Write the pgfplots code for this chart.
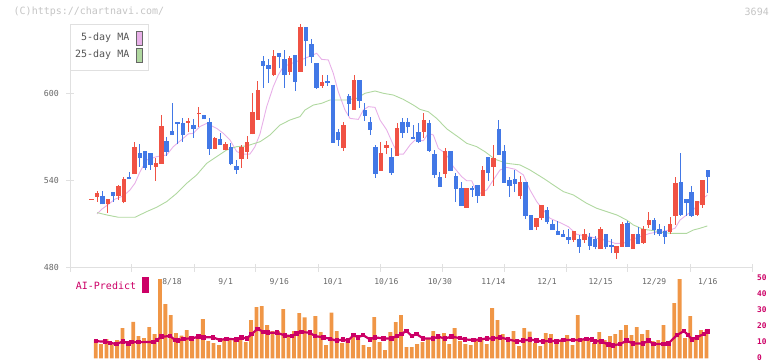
\documentclass[border=0pt]{standalone}
\usepackage{pgfplots}
\usepackage{pgfplotstable}
\pgfplotsset{compat=1.18}
\usepackage{fontspec}
\newfontfamily\mono{DejaVu Sans Mono}
\definecolor{cred}{HTML}{F05244}
\definecolor{cblue}{HTML}{4278E6}
\definecolor{vorange}{HTML}{F09646}
\definecolor{crimson}{HTML}{CC0066}
\definecolor{mafive}{HTML}{E8B0E8}
\definecolor{matwentyfive}{HTML}{B0D8A0}
\definecolor{axisgray}{HTML}{E0E0E0}
\definecolor{labgray}{HTML}{666666}
\definecolor{leggray}{HTML}{555555}
\definecolor{topgray}{HTML}{C4C4C4}

\pgfplotstableread{
k lo hi bb bt
0 526.6 527.4 526.6 527.4
1 525.3 532.6 528.7 531.2
3 517.7 527.1 523.4 527.1
5 526.4 536.8 529.2 536.1
6 524.1 542.5 525.3 540.9
8 544.6 566.4 544.6 563.0
12 539.7 555.4 549.4 552.2
13 551.3 584.8 551.3 577.4
18 573.1 582.7 579.8 580.9
20 577.0 590.3 585.4 586.3
23 561.8 570.0 561.8 569.2
25 560.7 566.4 560.7 565.0
28 548.7 564.3 554.9 562.7
29 555.0 570.6 559.8 566.4
30 571.7 600.4 571.7 587.1
31 581.8 608.5 581.8 602.3
34 611.9 629.9 612.6 625.7
37 612.6 625.7 614.7 624.4
39 614.9 647.8 614.9 645.7
43 603.9 612.6 605.3 607.8
47 560.4 580.2 562.5 578.1
49 588.5 612.6 588.5 609.2
54 546.6 566.6 546.6 558.8
55 558.1 567.1 562.5 564.3
57 557.0 579.5 557.0 576.1
62 569.4 586.4 573.5 581.8
66 541.8 562.3 544.6 560.2
70 521.1 534.9 521.1 534.9
73 529.4 549.9 529.4 547.1
75 536.3 564.3 549.4 555.6
80 527.3 543.2 529.4 538.8
83 505.7 514.0 507.8 514.0
84 512.6 523.0 514.0 523.0
90 497.7 505.0 498.8 505.0
92 496.8 506.4 498.8 503.0
95 492.6 507.8 492.6 506.4
98 485.7 494.7 489.9 494.7
99 494.0 511.2 494.0 509.9
101 492.6 503.0 492.6 503.0
103 496.3 508.5 496.8 506.4
104 507.1 518.1 509.2 512.6
108 503.0 514.7 504.6 509.9
109 509.2 542.3 515.4 538.1
113 515.4 525.7 516.1 525.7
114 520.9 540.2 523.0 540.2
}\redtab

\pgfplotstableread{
k lo hi bb bt
2 523.4 532.6 523.4 529.2
4 525.3 531.9 529.4 531.9
7 540.7 545.7 540.7 542.3
9 549.4 565.3 555.6 558.8
10 546.9 560.0 548.7 560.0
11 547.1 558.6 550.6 558.6
14 556.8 569.9 559.8 567.1
15 571.2 593.3 571.2 574.0
16 564.8 580.0 578.8 580.0
17 566.6 582.7 571.5 579.5
19 569.4 582.5 575.6 577.9
21 582.0 585.0 582.0 585.0
22 557.7 582.7 561.8 580.2
24 564.6 572.4 564.6 568.5
26 550.3 565.5 551.5 562.7
27 544.6 554.0 547.3 550.1
32 603.9 625.7 619.1 622.3
33 607.3 623.7 616.8 619.5
35 617.2 627.8 625.3 627.8
36 603.9 629.9 612.6 623.7
38 601.8 626.4 608.0 626.4
40 618.8 645.7 636.3 645.7
41 621.1 637.5 625.3 634.0
42 603.2 620.9 603.9 620.9
44 605.3 612.6 607.3 608.5
45 566.0 605.7 566.0 605.7
46 563.9 575.4 568.0 573.5
48 584.6 599.5 592.9 598.2
50 590.1 609.2 594.7 609.2
51 581.1 593.3 584.6 588.5
52 571.2 583.9 574.9 580.2
53 541.8 564.3 544.6 563.0
56 543.9 562.5 545.3 556.1
58 569.2 583.0 572.9 580.2
59 572.9 583.0 577.0 580.2
60 568.7 578.1 568.7 569.9
61 566.0 579.5 566.6 573.5
63 559.7 581.8 560.4 579.5
64 541.8 560.9 543.9 558.1
65 535.6 546.0 535.6 542.3
67 546.6 560.2 546.6 560.2
68 525.3 544.8 534.2 543.2
69 522.5 539.1 522.5 534.9
71 528.7 536.3 533.6 534.9
72 524.6 537.0 529.4 537.0
74 539.7 556.1 545.3 556.1
76 557.5 581.6 557.5 575.4
77 538.4 564.3 538.4 560.2
78 528.7 542.5 536.3 540.2
79 531.9 547.1 537.7 540.9
81 513.5 538.8 515.6 538.8
82 505.7 516.1 505.7 516.1
85 509.9 521.6 511.2 519.5
86 505.7 512.6 505.7 509.9
87 502.3 512.0 502.3 505.0
88 500.9 505.7 500.9 503.0
89 496.1 506.4 498.8 500.9
91 489.9 502.3 494.0 499.5
93 492.0 503.7 494.9 500.9
94 492.6 501.6 494.0 499.5
96 492.6 503.0 494.0 503.0
97 489.9 499.5 494.0 495.4
100 494.0 512.0 494.0 510.6
102 496.1 507.8 496.1 503.0
105 502.3 514.0 506.0 512.6
106 501.8 509.9 503.2 506.4
107 496.3 508.5 501.1 505.0
110 515.4 558.8 516.1 538.8
111 515.4 527.1 524.3 527.1
112 514.7 536.1 515.4 531.9
115 531.2 547.1 542.3 547.1
}\bluetab

\pgfplotstableread{
k v
1 11.4
2 8.9
3 12.0
4 8.7
5 11.4
6 18.9
7 8.9
8 22.7
9 13.9
10 12.65
11 19.5
12 15.1
13 49.5
14 33.9
15 27.0
16 15.8
17 14.2
18 17.65
19 11.4
20 13.3
21 24.5
22 10.8
23 9.5
24 8.3
25 11.4
26 12.0
27 11.4
28 13.3
29 10.15
30 23.9
31 32.0
32 32.65
33 20.8
34 17.0
35 17.0
36 30.8
37 14.5
38 17.0
39 28.3
40 25.5
41 16.4
42 26.4
43 16.4
44 8.3
45 28.5
46 17.0
47 9.5
48 10.8
49 13.3
50 12.0
51 8.3
52 7.0
53 25.8
54 10.15
55 5.15
56 16.4
57 22.65
58 27.0
59 7.0
60 7.0
61 8.9
62 10.15
63 12.65
64 17.0
65 15.15
66 15.8
67 8.9
68 18.9
69 10.8
70 8.9
71 8.3
72 10.8
73 11.4
74 8.9
75 31.4
76 23.9
77 15.15
78 12.0
79 17.0
80 7.65
81 18.9
82 16.7
83 9.5
84 7.65
85 15.8
86 15.15
87 12.0
88 11.4
89 14.5
90 8.3
91 27.0
92 11.4
93 11.4
94 9.5
95 16.4
96 11.4
97 13.9
98 15.15
99 17.65
100 20.8
101 14.5
102 19.5
103 15.15
104 17.65
105 10.8
106 11.4
107 20.8
108 8.9
109 34.5
110 49.5
111 12.65
112 26.4
113 13.3
114 17.65
115 17.65
}\voltab

\pgfplotsset{
  wick/.style={draw=none, no markers, forget plot,
    error bars/.cd, y dir=plus, y explicit, error mark=none,
    error bar style={line width=1pt, draw=#1, solid}},
  body/.style={draw=none, no markers, forget plot,
    error bars/.cd, y dir=plus, y explicit, error mark=none,
    error bar style={line width=4.4pt, draw=#1, solid}},
}

\begin{document}
\begin{tikzpicture}[x=1pt,y=1pt]
\useasboundingbox (0,0) rectangle (772,361);

% ---------- main price axis ----------
\begin{axis}[
  at={(70pt,93pt)}, anchor=south west, scale only axis,
  width=682pt, height=244pt,
  xmin=-4.05, xmax=123.26, ymin=479.5, ymax=647.8,
  clip=false,
  axis x line*=bottom, axis y line*=left,
  axis line style={draw=axisgray, line width=1pt},
  tick style={draw=axisgray, line width=1pt},
  tick align=center, major tick length=8pt,
  ytick={480,540,600},
  /pgf/number format/assume math mode=true,
  yticklabel style={font=\fontsize{8.3}{9}\mono, text=labgray, inner sep=0pt, xshift=-7pt},
  xtick={-4.05,7.52,19.1,30.67,42.25,53.82,65.4,76.97,88.54,100.1,111.7,123.26},
  xticklabels={},
  extra x ticks={15,25,35,45,55,65,75,85,95,105,115},
  extra x tick labels={8/18,9/1,9/16,10/1,10/16,10/30,11/14,12/1,12/15,12/29,1/16},
  extra x tick style={major tick length=0pt, tick style={draw=none},
     xticklabel style={font=\fontsize{8}{9}\mono, text=labgray, inner sep=0pt, yshift=-10pt}},
]
\addplot[mafive, line width=0.9pt, forget plot] coordinates {
(1,516.8)(1.86,520)(2.98,523)(4.35,527)(5.9,529.2)(7.15,533.3)(8.08,538)(9.02,545.9)
(10.27,554)(12.13,556.3)(14.0,557.5)(15.24,563.2)(17.1,569)(18.04,572)(18.97,572.4)
(20.2,577)(21.47,579.3)(23.33,575.8)(24.57,572.4)(25.82,567.8)(27.07,559.8)(28.3,558)
(29.55,558.1)(30.48,563.2)(31.42,572)(32.67,590.8)(33.9,604.6)(34.83,612.6)(35.77,618.4)
(37.64,621.1)(39.82,624.1)(42.0,627.6)(42.93,623.4)(44.17,623)(45.1,613.8)(46.03,601.1)
(47.28,588.5)(48.22,582.7)(49.78,582)(50.71,588.5)(51.65,590.8)(52.89,590.3)(53.82,581.6)
(55.07,574.7)(56.31,564.3)(57.24,558)(58.18,558)(59.42,564.3)(60.35,567.8)(61.91,567.3)
(62.84,572.4)(63.78,571.2)(64.71,562)(65.5,560)(66.5,556)(67.51,549.4)(69.07,542.5)
(70.0,539.7)(70.94,539.7)(71.55,534.5)(72.49,531)(73.74,533.3)(74.98,540.2)(76.22,547.1)
(77.47,548.9)(79.02,547.6)(80.58,543.7)(81.82,533.3)(83.07,525.3)(84.31,519.5)(85.55,513.8)
(87.42,510.8)(88.97,508.0)(90.54,502.7)(92.4,501.6)(94.27,500)(96.14,498.4)(97.69,496.5)
(99.24,496.5)(100.49,498.8)(102.35,501.1)(104.22,503.4)(106.09,504.6)(107.95,505.7)
(108.89,506.9)(109.82,512.6)(111.07,516.1)(112.31,519.5)(113.55,525.3)(114.92,529.9)
};
\addplot[matwentyfive, line width=0.9pt, forget plot] coordinates {
(1,517.7)(2.8,516.1)(4.97,514.5)(8.08,514.5)(10.27,518.4)(12.13,521.4)(14.0,525.3)
(15.87,531)(17.73,537.9)(19.6,543.7)(21.47,551.7)(23.33,556.3)(25.2,560.9)(27.07,563.2)
(28.93,563.7)(31.42,566.6)(33.28,571.2)(35.15,578.1)(37.02,581.6)(38.88,583.9)(39.82,588.5)
(41.37,591.9)(42.93,593.1)(44.48,595.4)(45.73,595.4)(47.6,595.4)(49.47,596.5)(51.02,600)
(52.89,601.6)(54.44,600)(56.31,598.8)(58.18,595.8)(60.04,591.9)(61.29,588.9)(62.84,587.3)
(64.4,582.7)(66.27,575.5)(68.75,569)(70.0,565.5)(71.87,563.2)(73.42,559.7)(75.29,554.5)
(77.47,551.7)(79.96,550.6)(81.82,547.1)(84.31,541.4)(86.17,536.8)(88.04,532.2)(89.91,529.9)
(92.4,524.1)(94.27,520.7)(96.14,518.4)(98.0,516.1)(99.87,512.6)(101.1,509.2)(102.97,506.2)
(104.84,505.3)(106.7,503.9)(108.27,503.4)(109.82,503.4)(111.07,503.4)(112.31,505.7)
(113.55,506.9)(114.92,508.5)
};
\addplot[wick=cred] table[x=k, y=lo, y error plus expr=\thisrow{hi}-\thisrow{lo}] {\redtab};
\addplot[wick=cblue] table[x=k, y=lo, y error plus expr=\thisrow{hi}-\thisrow{lo}] {\bluetab};
\addplot[body=cred] table[x=k, y=bb, y error plus expr=\thisrow{bt}-\thisrow{bb}] {\redtab};
\addplot[body=cblue] table[x=k, y=bb, y error plus expr=\thisrow{bt}-\thisrow{bb}] {\bluetab};
\end{axis}

% ---------- volume / AI-Predict axis ----------
\begin{axis}[
  at={(70pt,2.7pt)}, anchor=south west, scale only axis,
  width=682pt, height=80pt,
  xmin=-3.8, xmax=123.51, ymin=0, ymax=50,
  clip=false,
  axis line style={draw=none},
  xtick=\empty,
  ytick={0,10,20,30,40,50},
  yticklabel pos=right,
  major tick length=0pt,
  /pgf/number format/assume math mode=true,
  yticklabel style={font=\fontsize{7.8}{9}\mono\bfseries, text=crimson, anchor=west, inner sep=0pt, xshift=5pt, yshift=0.8pt},
]
\addplot[ybar, bar width=3.8pt, bar shift=0pt, fill=vorange, draw=none, forget plot] table[x=k, y=v] {\voltab};
\addplot[crimson, line width=2.2pt, mark=square*, mark size=1.1pt, forget plot] coordinates {
(1,10.7)(2.7,10.4)(3.7,9.7)(4.9,8.9)(6.1,10.6)(7.1,9.3)(7.7,10.1)(9,10.1)(11.75,10.15)
(12.4,11.4)(13.3,13.5)(14.9,13.9)(15.8,11.4)(16.4,11.0)(17.35,12.2)(18.9,12.4)(20.15,13.5)
(21.1,13.1)(22.9,13.1)(24.2,11.4)(25.4,12.2)(27.3,11.8)(28.2,13.1)(29.2,12.4)(30.1,15.15)
(31.2,18.3)(32.3,16.6)(33.2,16.0)(34.8,16.0)(36.3,14.3)(37.6,13.9)(38.5,15.6)(39.4,16.4)
(41.0,16.0)(41.9,13.9)(43.5,13.1)(44.7,12.2)(46.0,11.0)(47.2,11.8)(48.1,11.0)(49.1,14.5)
(50.0,13.1)(50.9,14.5)(52.2,11.8)(53.1,13.1)(54.7,12.4)(56.2,12.4)(57.2,13.9)(58.1,15.15)
(59.0,17.2)(60.0,13.9)(60.9,15.15)(62.1,12.4)(64.0,12.4)(64.9,13.5)(66.2,12.4)(67.4,13.5)
(69.0,12.65)(69.9,11.8)(71.5,11.4)(72.7,11.8)(74.0,12.4)(75.2,12.4)(76.5,13.1)(78.0,11.8)
(79.6,10.6)(80.8,11.0)(82.1,11.8)(83.3,11.0)(84.5,10.4)(85.8,11.0)(87.0,10.6)(88.3,11.4)
(90.1,11.4)(91.4,11.4)(92.6,12.2)(93.6,11.8)(94.2,10.6)(95.4,10.6)(96.7,8.5)(97.6,8.1)
(98.9,8.9)(100.1,11.0)(101.3,9.3)(103.2,9.3)(104.2,11.0)(105.1,8.9)(107.0,8.9)(107.9,9.3)
(109.5,14.5)(110.8,17.0)(111.6,14.5)(112.3,11.8)(113.2,13.1)(114.5,15.15)(115.2,16.8)
};
\end{axis}

% ---------- legend ----------
\draw[draw=axisgray, fill=white, line width=1pt] (70.3,290.3) rectangle (148.3,336.7);
\node[anchor=east, inner sep=0pt, font=\fontsize{10}{12}\mono, text=leggray] at (129.5,323.7) {5-day MA};
\node[anchor=east, inner sep=0pt, font=\fontsize{10}{12}\mono, text=leggray] at (129.5,306) {25-day MA};
\draw[draw=labgray, fill=mafive, line width=0.8pt] (136.3,316) rectangle (142.5,330);
\draw[draw=labgray, fill=matwentyfive, line width=0.8pt] (136.3,298.7) rectangle (142.5,312.7);

% ---------- texts ----------
\node[anchor=west, inner sep=0pt, font=\fontsize{10}{12}\mono, text=topgray] at (13.5,349) {(C)https://chartnavi.com/};
\node[anchor=east, inner sep=0pt, font=\fontsize{10}{12}\mono, text=topgray] at (769,349) {3694};
\node[anchor=west, inner sep=0pt, font=\fontsize{10}{12}\mono, text=crimson] at (75.7,75) {AI-Predict};
\fill[crimson] (142,68.3) rectangle (149,84);
\end{tikzpicture}
\end{document}
